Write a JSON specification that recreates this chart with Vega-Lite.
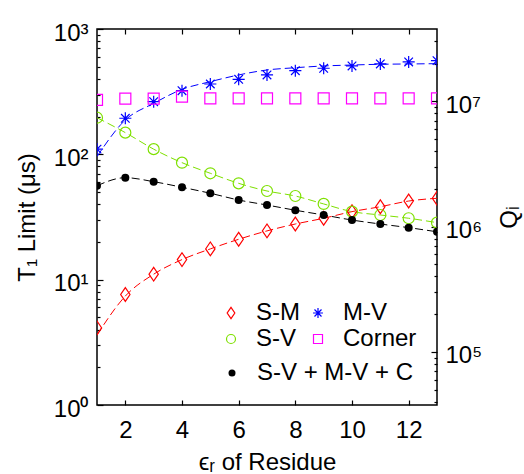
{
  "$schema": "https://vega.github.io/schema/vega-lite/v6.json",
  "width": 340,
  "height": 376,
  "autosize": {"type": "none"},
  "padding": {"left": 97, "top": 29, "right": 87, "bottom": 69},
  "background": "white",
  "config": {
    "font": "Liberation Sans",
    "view": {"stroke": "black", "strokeWidth": 1.5},
    "axis": {
      "labelFont": "Liberation Sans", "labelFontSize": 24, "labelColor": "black",
      "titleFont": "Liberation Sans", "titleFontSize": 24, "titleFontWeight": "normal", "titleColor": "black",
      "tickColor": "black", "tickWidth": 1.2, "domain": false, "grid": false, "zindex": 1,
      "labelOverlap": false, "labelBound": false, "labelFlush": false
    },
    "legend": {"labelFont": "Liberation Sans", "labelFontSize": 24, "labelColor": "black"}
  },
  "datasets": {
    "t1": [
      {"s": "S-M", "x": 1, "T1": 4.12, "fit": 3.62},
      {"s": "S-M", "x": 2, "T1": 7.61, "fit": 7.4},
      {"s": "S-M", "x": 3, "T1": 11.06, "fit": 11.06},
      {"s": "S-M", "x": 4, "T1": 14.46, "fit": 14.46},
      {"s": "S-M", "x": 5, "T1": 17.6, "fit": 17.6},
      {"s": "S-M", "x": 6, "T1": 21.0, "fit": 21.0},
      {"s": "S-M", "x": 7, "T1": 24.5, "fit": 24.5},
      {"s": "S-M", "x": 8, "T1": 27.8, "fit": 27.8},
      {"s": "S-M", "x": 9, "T1": 30.9, "fit": 30.9},
      {"s": "S-M", "x": 10, "T1": 34.9, "fit": 34.9},
      {"s": "S-M", "x": 11, "T1": 38.2, "fit": 38.2},
      {"s": "S-M", "x": 12, "T1": 42.4, "fit": 42.4},
      {"s": "S-M", "x": 13, "T1": 44.6, "fit": 44.6},
      {"s": "M-V", "x": 1, "T1": 110, "fit": 96},
      {"s": "M-V", "x": 2, "T1": 194, "fit": 188},
      {"s": "M-V", "x": 3, "T1": 263, "fit": 255},
      {"s": "M-V", "x": 4, "T1": 322, "fit": 330},
      {"s": "M-V", "x": 5, "T1": 364, "fit": 380},
      {"s": "M-V", "x": 6, "T1": 397, "fit": 430},
      {"s": "M-V", "x": 7, "T1": 430, "fit": 471},
      {"s": "M-V", "x": 8, "T1": 465, "fit": 491},
      {"s": "M-V", "x": 9, "T1": 486, "fit": 507},
      {"s": "M-V", "x": 10, "T1": 507, "fit": 516},
      {"s": "M-V", "x": 11, "T1": 526, "fit": 523},
      {"s": "M-V", "x": 12, "T1": 546, "fit": 526},
      {"s": "M-V", "x": 13, "T1": 559, "fit": 529},
      {"s": "S-V", "x": 1, "T1": 196, "fit": 196},
      {"s": "S-V", "x": 2, "T1": 149, "fit": 149},
      {"s": "S-V", "x": 3, "T1": 110, "fit": 110},
      {"s": "S-V", "x": 4, "T1": 85.8, "fit": 85.8},
      {"s": "S-V", "x": 5, "T1": 70.6, "fit": 70.6},
      {"s": "S-V", "x": 6, "T1": 58.7, "fit": 58.7},
      {"s": "S-V", "x": 7, "T1": 51.0, "fit": 51.0},
      {"s": "S-V", "x": 8, "T1": 46.5, "fit": 46.5},
      {"s": "S-V", "x": 9, "T1": 40.2, "fit": 40.2},
      {"s": "S-V", "x": 10, "T1": 34.9, "fit": 34.9},
      {"s": "S-V", "x": 11, "T1": 32.8, "fit": 32.8},
      {"s": "S-V", "x": 12, "T1": 30.9, "fit": 30.9},
      {"s": "S-V", "x": 13, "T1": 28.5, "fit": 28.5},
      {"s": "Corner", "x": 1, "T1": 272},
      {"s": "Corner", "x": 2, "T1": 278},
      {"s": "Corner", "x": 3, "T1": 278},
      {"s": "Corner", "x": 4, "T1": 289},
      {"s": "Corner", "x": 5, "T1": 280},
      {"s": "Corner", "x": 6, "T1": 280},
      {"s": "Corner", "x": 7, "T1": 280},
      {"s": "Corner", "x": 8, "T1": 280},
      {"s": "Corner", "x": 9, "T1": 280},
      {"s": "Corner", "x": 10, "T1": 280},
      {"s": "Corner", "x": 11, "T1": 280},
      {"s": "Corner", "x": 12, "T1": 280},
      {"s": "Corner", "x": 13, "T1": 280},
      {"s": "S-V + M-V + C", "x": 1, "T1": 56.2, "fit": 56.2},
      {"s": "S-V + M-V + C", "x": 2, "T1": 65.1, "fit": 65.1},
      {"s": "S-V + M-V + C", "x": 3, "T1": 60.5, "fit": 60.5},
      {"s": "S-V + M-V + C", "x": 4, "T1": 54.6, "fit": 54.6},
      {"s": "S-V + M-V + C", "x": 5, "T1": 48.9, "fit": 48.9},
      {"s": "S-V + M-V + C", "x": 6, "T1": 43.2, "fit": 43.2},
      {"s": "S-V + M-V + C", "x": 7, "T1": 39.4, "fit": 39.4},
      {"s": "S-V + M-V + C", "x": 8, "T1": 35.8, "fit": 35.8},
      {"s": "S-V + M-V + C", "x": 9, "T1": 32.8, "fit": 32.8},
      {"s": "S-V + M-V + C", "x": 10, "T1": 29.9, "fit": 29.9},
      {"s": "S-V + M-V + C", "x": 11, "T1": 27.8, "fit": 27.8},
      {"s": "S-V + M-V + C", "x": 12, "T1": 26.0, "fit": 26.0},
      {"s": "S-V + M-V + C", "x": 13, "T1": 24.1, "fit": 24.1}
    ]
  },
  "layer": [
    {
      "data": {"name": "t1"},
      "transform": [{"filter": "datum.s == 'S-M' || datum.s == 'M-V' || datum.s == 'S-V'"}],
      "mark": {"type": "line", "interpolate": "monotone", "strokeWidth": 1, "strokeDash": [8, 4], "clip": true},
      "encoding": {
        "x": {"field": "x", "type": "quantitative", "scale": {"domain": [1, 13], "nice": false, "zero": false},
          "axis": {"orient": "bottom", "values": [2, 4, 6, 8, 10, 12], "tickSize": -5, "labelPadding": 18, "title": "ϵᵣ of Residue", "titlePadding": 8}},
        "y": {"field": "fit", "type": "quantitative", "scale": {"type": "log", "domain": [1, 1000], "nice": false},
          "axis": {"orient": "left", "title": "T₁ Limit (μs)", "titlePadding": 14,
            "values": [1, 2, 3, 4, 5, 6, 7, 8, 9, 10, 20, 30, 40, 50, 60, 70, 80, 90, 100, 200, 300, 400, 500, 600, 700, 800, 900, 1000],
            "labelExpr": "datum.value == 1 ? '10⁰' : datum.value == 10 ? '10¹' : datum.value == 100 ? '10²' : datum.value == 1000 ? '10³' : ''",
            "tickSize": {"condition": {"test": "datum.value == 1 || datum.value == 10 || datum.value == 100 || datum.value == 1000", "value": -6}, "value": -3},
            "labelPadding": 15, "labelOffset": 4}},
        "color": {"field": "s", "type": "nominal", "scale": {"domain": ["S-M", "M-V", "S-V"], "range": ["#ff0000", "#0000ff", "#7ee000"]}, "legend": null},
        "detail": {"field": "s"}
      }
    },
    {
      "data": {"name": "t1"},
      "transform": [{"filter": "datum.s != 'S-V + M-V + C'"}],
      "mark": {"type": "point", "filled": false, "size": 121, "strokeWidth": 1.2, "opacity": 1, "clip": true},
      "encoding": {
        "x": {"field": "x", "type": "quantitative", "axis": null},
        "y": {"field": "T1", "type": "quantitative", "scale": {"type": "log", "domain": [1, 1000], "nice": false}, "axis": null},
        "color": {"field": "s", "type": "nominal",
          "scale": {"domain": ["S-M", "M-V", "S-V", "Corner"], "range": ["#ff0000", "#0000ff", "#7ee000", "#ff00ff"]},
          "legend": {"orient": "none", "legendX": 122, "legendY": 272, "columns": 2, "direction": "horizontal", "title": null, "symbolSize": 81, "labelOffset": 13, "columnPadding": 6, "rowPadding": 2, "symbolStrokeWidth": 1.2, "labelFontSize": 24}},
        "shape": {"field": "s", "type": "nominal",
          "scale": {"domain": ["S-M", "M-V", "S-V", "Corner"], "range": ["M0,-1.25L0.85,0L0,1.25L-0.85,0Z", "M-1.1,0L1.1,0M0,-1.1L0,1.1M-0.78,-0.78L0.78,0.78M-0.78,0.78L0.78,-0.78", "circle", "square"]},
          "legend": {"orient": "none", "legendX": 122, "legendY": 272, "columns": 2, "direction": "horizontal", "title": null, "symbolSize": 81, "labelOffset": 13, "columnPadding": 6, "rowPadding": 2, "symbolStrokeWidth": 1.2, "labelFontSize": 24}}
      }
    },
    {
      "data": {"name": "t1"},
      "transform": [{"filter": "datum.s == 'S-V + M-V + C'"}],
      "mark": {"type": "line", "interpolate": "monotone", "strokeWidth": 1, "strokeDash": [8, 4], "color": "black", "clip": true},
      "encoding": {
        "x": {"field": "x", "type": "quantitative", "axis": null},
        "y": {"field": "fit", "type": "quantitative", "scale": {"type": "log", "domain": [1, 1000], "nice": false}, "axis": null}
      }
    },
    {
      "data": {"name": "t1"},
      "transform": [{"filter": "datum.s == 'S-V + M-V + C'"}],
      "mark": {"type": "point", "filled": true, "size": 64, "color": "black", "opacity": 1, "clip": true},
      "encoding": {
        "x": {"field": "x", "type": "quantitative", "axis": null},
        "y": {"field": "T1", "type": "quantitative", "scale": {"type": "log", "domain": [1, 1000], "nice": false}, "axis": null},
        "shape": {"field": "s", "type": "nominal", "scale": {"domain": ["S-V + M-V + C"], "range": ["circle"]},
          "legend": {"orient": "none", "legendX": 123, "legendY": 332, "title": null, "symbolSize": 49, "labelOffset": 13, "symbolFillColor": "black", "symbolStrokeColor": "black", "labelFontSize": 24}}
      }
    },
    {
      "data": {"values": [{"x": 1, "Q": 37699}, {"x": 13, "Q": 37699000}]},
      "mark": {"type": "point", "opacity": 0},
      "encoding": {
        "x": {"field": "x", "type": "quantitative",
          "axis": {"orient": "top", "values": [2, 4, 6, 8, 10, 12], "labels": false, "tickSize": -5, "title": null}},
        "y": {"field": "Q", "type": "quantitative", "scale": {"type": "log", "domain": [37699, 37699000], "nice": false},
          "axis": {"orient": "right", "title": "Qᵢ", "titleAngle": 270, "titleBaseline": "top", "titlePadding": 16,
            "values": [40000, 50000, 60000, 70000, 80000, 90000, 100000, 200000, 300000, 400000, 500000, 600000, 700000, 800000, 900000, 1000000, 2000000, 3000000, 4000000, 5000000, 6000000, 7000000, 8000000, 9000000, 10000000, 20000000, 30000000],
            "labelExpr": "datum.value == 100000 ? '10⁵' : datum.value == 1000000 ? '10⁶' : datum.value == 10000000 ? '10⁷' : ''",
            "tickSize": {"condition": {"test": "datum.value == 100000 || datum.value == 1000000 || datum.value == 10000000", "value": -6}, "value": -3},
            "labelPadding": 14, "labelOffset": 4}}
      }
    }
  ],
  "resolve": {"scale": {"y": "independent", "color": "independent", "shape": "independent"}, "axis": {"x": "independent"}}
}
